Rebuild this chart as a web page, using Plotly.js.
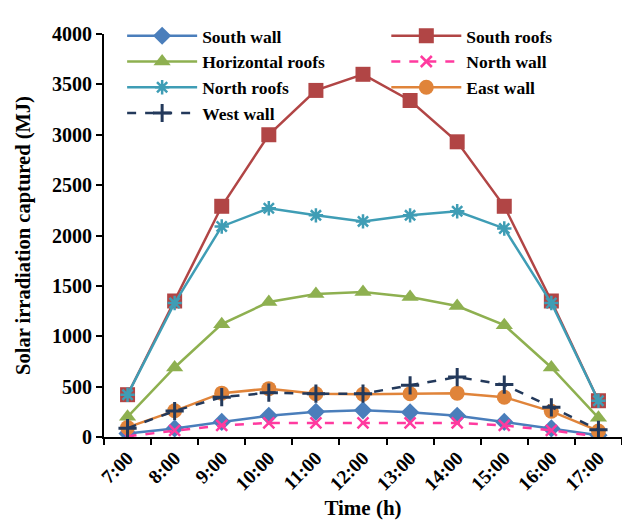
<!DOCTYPE html>
<html><head><meta charset="utf-8">
<script src="https://cdn.plot.ly/plotly-3.0.1.min.js"></script>
<style>body{margin:0;background:#fff}#c{width:622px;height:520px}</style>
</head><body><div id="c"></div>
<script>
const hours = ["7:00","8:00","9:00","10:00","11:00","12:00","13:00","14:00","15:00","16:00","17:00"];
const southWall = [35, 85, 150, 210, 250, 265, 245, 210, 150, 85, 18];
const southRoofs = [420, 1350, 2290, 3000, 3440, 3600, 3340, 2930, 2290, 1350, 360];
const horizontalRoofs = [200, 690, 1120, 1340, 1420, 1440, 1390, 1300, 1110, 690, 190];
const northWall = [8, 65, 115, 140, 140, 140, 140, 140, 115, 65, 5];
const northRoofs = [420, 1330, 2090, 2270, 2200, 2140, 2200, 2240, 2070, 1330, 360];
const eastWall = [95, 260, 435, 480, 430, 425, 430, 435, 395, 255, 60];
const westWall = [88, 258, 395, 440, 430, 430, 513, 595, 520, 295, 72];

const F = "Liberation Serif, Times New Roman, serif";
function tr(name, y, color, dash, symbol, size, mline, leg) {
  return {x: hours, y: y, name: name, type: "scatter", mode: "lines+markers", legend: leg,
    line: {color: color, width: 2.5, dash: dash},
    marker: {symbol: symbol, size: size, color: color, line: {color: color, width: mline || 0}}};
}
const data = [
  tr("South wall", southWall, "#4A7EBB", "solid", "diamond", 14, 0, "legend"),
  tr("South roofs", southRoofs, "#B14545", "solid", "square", 15, 0, "legend2"),
  tr("Horizontal roofs", horizontalRoofs, "#8EB050", "solid", "triangle-up", 15, 0, "legend"),
  tr("North wall", northWall, "#FF3A9F", "dash", "x-thin-open", 11, 2.5, "legend2"),
  tr("North roofs", northRoofs, "#3F9DB5", "solid", "asterisk-open", 12, 2.5, "legend"),
  tr("East wall", eastWall, "#E0843A", "solid", "circle", 15, 0, "legend2"),
  tr("West wall", westWall, "#23395B", "dash", "cross-thin-open", 13, 3, "legend")
];
const legFont = {family: F, size: 17.5, weight: "bold", color: "#000"};
const layout = {
  width: 622, height: 520,
  margin: {l: 104, r: 0, t: 34, b: 83},
  paper_bgcolor: "#fff", plot_bgcolor: "#fff",
  font: {family: F, color: "#000", size: 17, weight: "bold"},
  showlegend: true,
  legend: {orientation: "v", x: 0.035, y: 1.04, xanchor: "left", yanchor: "top",
    itemwidth: 70, font: legFont, bgcolor: "rgba(0,0,0,0)", tracegroupgap: 0},
  legend2: {orientation: "v", x: 0.545, y: 1.04, xanchor: "left", yanchor: "top",
    itemwidth: 70, font: legFont, bgcolor: "rgba(0,0,0,0)", tracegroupgap: 0},
  xaxis: {type: "category", range: [-0.5, 10.5], tickson: "boundaries",
    ticks: "outside", ticklen: 6, tickwidth: 2, tickcolor: "#000",
    showline: true, linecolor: "#000", linewidth: 2, showgrid: false, zeroline: false,
    tickangle: -45, tickfont: {family: F, size: 19.5, weight: "bold"},
    title: {text: "Time (h)", font: {family: F, size: 21, weight: "bold"}, standoff: 8}},
  yaxis: {range: [0, 4000], dtick: 500, ticks: "outside", ticklen: 6, tickwidth: 2, tickcolor: "#000",
    showline: true, linecolor: "#000", linewidth: 2, showgrid: false, zeroline: false,
    tickfont: {family: F, size: 20, weight: "bold"},
    title: {text: "Solar irradiation captured (MJ)", font: {family: F, size: 20.5, weight: "bold"}, standoff: 16}}
};
Plotly.newPlot("c", data, layout, {displayModeBar: false});
</script></body></html>
